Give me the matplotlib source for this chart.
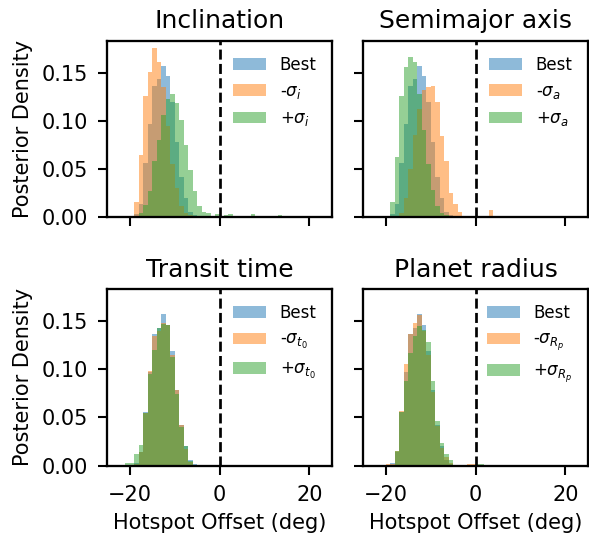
import matplotlib
matplotlib.use("Agg")
import matplotlib.pyplot as plt
import numpy as np

# posterior densities per 1-deg bin; each list starts at the given left bin edge (deg)
best_start = -19
best = [0.003, 0.014, 0.056, 0.097, 0.136, 0.143, 0.157, 0.146, 0.119, 0.078,
        0.042, 0.020, 0.006, 0.002]

inc_minus_start = -19
inc_minus = [0.016, 0.065, 0.126, 0.151, 0.175, 0.161, 0.135, 0.095, 0.055, 0.030,
             0.012, 0.005, 0.002]
inc_plus_start = -18
inc_plus = [0.004, 0.013, 0.027, 0.058, 0.080, 0.106, 0.123, 0.128, 0.118, 0.101,
            0.075, 0.049, 0.027, 0.012, 0.006, 0.004, 0.0, 0.003, 0.0, 0.002,
            0.003, 0.0, 0.0, 0.0, 0.0, 0.003, 0.0, 0.0, 0.0, 0.0, 0.0, 0.002]

sma_minus_start = -17
sma_minus = [0.004, 0.020, 0.050, 0.085, 0.112, 0.132, 0.135, 0.136, 0.120, 0.084,
             0.058, 0.025, 0.014, 0.006, 0.001, 0.0, 0.0, 0.0, 0.0, 0.0, 0.008]
sma_plus_start = -19
sma_plus = [0.016, 0.063, 0.126, 0.156, 0.166, 0.161, 0.128, 0.090, 0.055, 0.028,
            0.012, 0.005, 0.002]

t0_minus_start = -19
t0_minus = [0.002, 0.014, 0.055, 0.098, 0.134, 0.140, 0.148, 0.146, 0.115, 0.078,
            0.042, 0.017, 0.004, 0.001]
t0_plus_start = -21
t0_plus = [0.003, 0.003, 0.012, 0.021, 0.055, 0.095, 0.120, 0.143, 0.147, 0.146,
           0.113, 0.074, 0.040, 0.020, 0.005, 0.001]

rp_minus_start = -20
rp_minus = [0.002, 0.002, 0.015, 0.057, 0.105, 0.136, 0.148, 0.156, 0.140, 0.115,
            0.076, 0.041, 0.018, 0.009, 0.003, 0.0, 0.0, 0.0, 0.0015, 0.0015]
rp_plus_start = -18
rp_plus = [0.015, 0.056, 0.088, 0.117, 0.134, 0.145, 0.141, 0.128, 0.088, 0.046,
           0.023, 0.012, 0.006, 0.001, 0.0, 0.0, 0.0, 0.0, 0.002, 0.002]

titles = ["Inclination", "Semimajor axis", "Transit time", "Planet radius"]
subs = ["i", "a", "t_0", "R_p"]
panels = [
    ((inc_minus_start, inc_minus), (inc_plus_start, inc_plus)),
    ((sma_minus_start, sma_minus), (sma_plus_start, sma_plus)),
    ((t0_minus_start, t0_minus), (t0_plus_start, t0_plus)),
    ((rp_minus_start, rp_minus), (rp_plus_start, rp_plus)),
]

plt.rcParams["axes.linewidth"] = 1.1
for a in ("xtick", "ytick"):
    plt.rcParams[a + ".major.size"] = 4.2
    plt.rcParams[a + ".major.width"] = 1.0
    plt.rcParams[a + ".major.pad"] = 5.0


def draw_hist(ax, start, vals, label):
    edges = start + np.arange(len(vals) + 1)
    ax.hist(edges[:-1], bins=edges, weights=vals, alpha=0.5, label=label)


fig, axes = plt.subplots(2, 2, sharex=True, sharey=True,
                         figsize=(589 / 150, 538 / 150), dpi=150)
fig.subplots_adjust(left=0.1822, right=0.9978, top=0.9243, bottom=0.1344,
                    wspace=0.141, hspace=0.406)

for ax, title, sub, (minus, plus) in zip(axes.flat, titles, subs, panels):
    draw_hist(ax, best_start, best, "Best")
    draw_hist(ax, minus[0], minus[1], r"-$\sigma_{%s}$" % sub)
    draw_hist(ax, plus[0], plus[1], r"+$\sigma_{%s}$" % sub)
    ax.axvline(0, color="k", ls="--", lw=1.3)
    ax.set_title(title)
    ax.legend(loc="upper right", frameon=False, fontsize=8)

axes[0, 0].set_xlim(-25, 25)
axes[0, 0].set_ylim(0, 0.183)
axes[0, 0].set_yticks([0.0, 0.05, 0.10, 0.15])
for ax in axes[:, 0]:
    ax.set_ylabel("Posterior Density")
for ax in axes[1, :]:
    ax.set_xlabel("Hotspot Offset (deg)")

plt.savefig("out.png", dpi=150)
